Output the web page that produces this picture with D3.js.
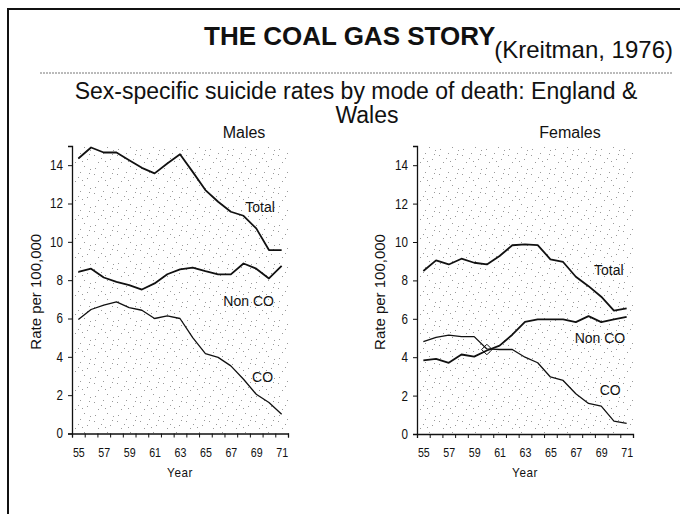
<!DOCTYPE html>
<html>
<head>
<meta charset="utf-8">
<script src="https://cdn.jsdelivr.net/npm/d3@7"></script>
<style>
  body { margin: 0; background: #fff; }
  svg { display: block; font-family: "Liberation Sans", Arial, sans-serif; }
</style>
</head>
<body>
<svg id="chart" width="680" height="514"></svg>
<script>
// years on the x axis (19xx)
var years = [55, 56, 57, 58, 59, 60, 61, 62, 63, 64, 65, 66, 67, 68, 69, 70, 71];
var yearLabels = [55, 57, 59, 61, 63, 65, 67, 69, 71];
var rateTicks = [0, 2, 4, 6, 8, 10, 12, 14];

// males, rate per 100,000
var maleTotal = [14.35, 14.92, 14.66, 14.66, 14.26, 13.86, 13.57, 14.09, 14.57, 13.65, 12.70, 12.09, 11.57, 11.36, 10.70, 9.57, 9.57];
var maleNonCO = [8.43, 8.60, 8.14, 7.91, 7.74, 7.51, 7.83, 8.31, 8.56, 8.66, 8.47, 8.30, 8.30, 8.87, 8.60, 8.09, 8.75];
var maleCO = [5.95, 6.47, 6.70, 6.87, 6.57, 6.43, 6.00, 6.14, 6.00, 5.00, 4.17, 3.97, 3.53, 2.83, 2.05, 1.62, 1.00];

// females, rate per 100,000
var femaleTotal = [8.49, 9.04, 8.83, 9.13, 8.92, 8.83, 9.27, 9.83, 9.88, 9.84, 9.10, 8.96, 8.19, 7.70, 7.15, 6.43, 6.54];
var femaleNonCO = [3.83, 3.91, 3.71, 4.14, 4.03, 4.35, 4.60, 5.17, 5.84, 5.97, 5.97, 5.97, 5.83, 6.14, 5.83, 5.97, 6.10];
var femaleCO = [4.81, 5.03, 5.15, 5.07, 5.07, 4.43, 4.40, 4.40, 4.00, 3.71, 2.97, 2.79, 2.10, 1.59, 1.45, 0.67, 0.55];

// where the series names sit (year, rate)
var maleLabels = [
  { text: "Total", year: 69.3, rate: 11.55 },
  { text: "Non CO", year: 68.4, rate: 6.63 },
  { text: "CO", year: 69.5, rate: 2.69 }
];
var femaleLabels = [
  { text: "Total", year: 69.6, rate: 8.29 },
  { text: "Non CO", year: 68.9, rate: 4.72 },
  { text: "CO", year: 69.7, rate: 2.05 }
];
// crossing point marked with a diamond on the females chart
var crossing = { year: 60, rate: 4.4 };

var svg = d3.select("#chart");

// stipple fill for the plot areas
var defs = svg.append("defs");
var pat = defs.append("pattern")
  .attr("id", "stipple")
  .attr("patternUnits", "userSpaceOnUse")
  .attr("width", 23)
  .attr("height", 19);
[[2, 3], [11, 1], [18, 7], [6, 10], [15, 14], [21, 17], [3, 16], [9, 6], [13, 9], [20, 2]].forEach(function(p) {
  pat.append("rect")
    .attr("x", p[0]).attr("y", p[1])
    .attr("width", 1).attr("height", 1)
    .attr("fill", "#9a9a9a");
});

// frame
svg.append("path")
  .attr("d", "M8,514 L8,9 L680,9")
  .attr("fill", "none")
  .attr("stroke", "#111")
  .attr("stroke-width", 2);

// headings
svg.append("text")
  .attr("x", 204).attr("y", 45)
  .attr("font-size", 26).attr("font-weight", "bold")
  .attr("fill", "#111")
  .text("THE COAL GAS STORY");
svg.append("text")
  .attr("x", 673).attr("y", 58)
  .attr("text-anchor", "end")
  .attr("font-size", 24)
  .attr("fill", "#111")
  .text("(Kreitman, 1976)");
svg.append("line")
  .attr("x1", 40).attr("x2", 672)
  .attr("y1", 73).attr("y2", 73)
  .attr("stroke", "#777")
  .attr("stroke-width", 1)
  .attr("stroke-dasharray", "2,1");
svg.append("text")
  .attr("x", 356).attr("y", 99)
  .attr("text-anchor", "middle")
  .attr("font-size", 23)
  .attr("fill", "#111")
  .text("Sex-specific suicide rates by mode of death: England &");
svg.append("text")
  .attr("x", 367).attr("y", 123)
  .attr("text-anchor", "middle")
  .attr("font-size", 23)
  .attr("fill", "#111")
  .text("Wales");

function drawPanel(opts) {
  var x = d3.scaleLinear().domain([54.5, 71.5]).range([opts.left, opts.right]);
  var y = d3.scaleLinear().domain([0, 15]).range([opts.bottom, opts.top]);
  var g = svg.append("g");

  g.append("rect")
    .attr("x", opts.left).attr("y", opts.top)
    .attr("width", opts.right - opts.left)
    .attr("height", opts.bottom - opts.top)
    .attr("fill", "url(#stipple)");

  g.append("text")
    .attr("x", opts.titleX).attr("y", 138)
    .attr("text-anchor", "middle")
    .attr("font-size", 16)
    .attr("fill", "#111")
    .text(opts.title);

  // y axis, narrow labels
  var yAxis = g.append("g")
    .attr("transform", "translate(" + opts.left + ",0)")
    .call(d3.axisLeft(y).tickValues(rateTicks).tickSize(4).tickPadding(7));
  yAxis.selectAll("text")
    .attr("font-size", 14).attr("fill", "#111")
    .attr("transform", "scale(0.83,1)");

  // x axis: boundary ticks, then year labels
  g.append("g")
    .attr("transform", "translate(0," + opts.bottom + ")")
    .call(d3.axisBottom(x).tickValues(d3.range(54.5, 72, 1)).tickSize(4).tickFormat(""));
  var xLab = g.append("g")
    .attr("transform", "translate(0," + opts.bottom + ")")
    .call(d3.axisBottom(x).tickValues(yearLabels).tickSize(0).tickPadding(14));
  xLab.select(".domain").remove();
  xLab.selectAll("text")
    .attr("font-size", 13).attr("fill", "#111")
    .attr("transform", "scale(0.82,1)");
  g.selectAll(".domain").attr("stroke", "#111").attr("stroke-width", 1.3);
  g.selectAll(".tick line").attr("stroke", "#111");

  var cx = (opts.left + opts.right) / 2;
  g.append("text")
    .attr("transform", "translate(" + cx + ",477) scale(0.9,1)")
    .attr("text-anchor", "middle")
    .attr("font-size", 13)
    .attr("letter-spacing", 0.6)
    .attr("fill", "#111")
    .text("Year");

  g.append("text")
    .attr("transform", "translate(" + opts.yTitleX + "," + ((opts.top + opts.bottom) / 2 + 2) + ") rotate(-90)")
    .attr("text-anchor", "middle")
    .attr("font-size", 15)
    .attr("fill", "#111")
    .text("Rate per 100,000");

  var line = d3.line()
    .x(function(d, i) { return x(years[i]); })
    .y(function(d) { return y(d); });

  opts.series.forEach(function(s) {
    g.append("path")
      .datum(s.values)
      .attr("d", line)
      .attr("fill", "none")
      .attr("stroke", "#111")
      .attr("stroke-width", s.width)
      .attr("stroke-linejoin", "round");
  });

  g.selectAll(".series-label")
    .data(opts.labels)
    .enter()
    .append("text")
    .attr("class", "series-label")
    .attr("x", function(d) { return x(d.year); })
    .attr("y", function(d) { return y(d.rate); })
    .attr("text-anchor", "middle")
    .attr("font-size", 14)
    .attr("fill", "#111")
    .text(function(d) { return d.text; });

  return { x: x, y: y, g: g };
}

drawPanel({
  title: "Males", titleX: 244,
  left: 72, right: 288, top: 146, bottom: 433.5, yTitleX: 41,
  series: [
    { values: maleTotal, width: 1.8 },
    { values: maleNonCO, width: 1.8 },
    { values: maleCO, width: 1.3 }
  ],
  labels: maleLabels
});

var fem = drawPanel({
  title: "Females", titleX: 570,
  left: 417, right: 633, top: 146, bottom: 434, yTitleX: 385,
  series: [
    { values: femaleTotal, width: 1.8 },
    { values: femaleNonCO, width: 1.8 },
    { values: femaleCO, width: 1.3 }
  ],
  labels: femaleLabels
});

fem.g.append("path")
  .attr("d", d3.symbol().type(d3.symbolDiamond2).size(70))
  .attr("transform", "translate(" + fem.x(crossing.year) + "," + fem.y(crossing.rate) + ")")
  .attr("fill", "none")
  .attr("stroke", "#111")
  .attr("stroke-width", 1);
</script>
</body>
</html>
